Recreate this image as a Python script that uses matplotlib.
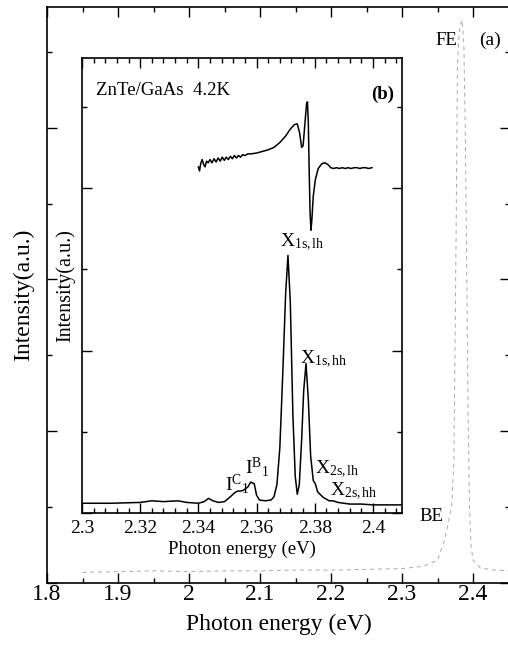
import matplotlib
matplotlib.use("Agg")
import matplotlib.pyplot as plt
from matplotlib.ticker import MultipleLocator, FixedLocator, FixedFormatter

plt.rcParams['font.family'] = ['Liberation Serif', 'DejaVu Serif']
plt.rcParams['mathtext.fontset'] = 'custom'
plt.rcParams['mathtext.rm'] = 'Liberation Serif'
plt.rcParams['mathtext.it'] = 'Liberation Serif:italic'

# ---- panel (a): full-range PL spectrum (faint trace) ----
energy_a = [1.85, 1.90, 1.95, 2.00, 2.05, 2.10, 2.15, 2.20, 2.25, 2.30, 2.33,
            2.350, 2.360, 2.366, 2.370, 2.373, 2.376, 2.378, 2.380, 2.382, 2.3845,
            2.387, 2.389, 2.391, 2.393, 2.395, 2.397, 2.400, 2.410, 2.430, 2.450]
intensity_a = [0.14, 0.15, 0.16, 0.15, 0.16, 0.16, 0.17, 0.17, 0.18, 0.19, 0.22,
               0.30, 0.57, 0.83, 1.03, 1.60, 4.50, 6.80, 7.20, 7.35, 7.42,
               7.10, 6.00, 4.20, 2.20, 1.00, 0.50, 0.30, 0.20, 0.17, 0.16]

# ---- panel (b): high-resolution PL spectrum ----
energy_b = [2.300, 2.310, 2.320, 2.324, 2.328, 2.333, 2.336, 2.340, 2.342, 2.3435,
            2.345, 2.347, 2.349, 2.351, 2.3525, 2.3535, 2.3545, 2.3555, 2.357, 2.358,
            2.3592, 2.360, 2.361, 2.363, 2.365, 2.366, 2.367, 2.368, 2.369, 2.3700,
            2.3708, 2.3716, 2.3725, 2.3733, 2.3740, 2.3747, 2.3755, 2.3762, 2.3770, 2.3778,
            2.3786, 2.3795, 2.3802, 2.381, 2.383, 2.385, 2.3863, 2.388, 2.392, 2.396,
            2.400, 2.405, 2.410]
intensity_b = [0.12, 0.12, 0.13, 0.15, 0.14, 0.15, 0.13, 0.12, 0.14, 0.18,
               0.15, 0.13, 0.14, 0.20, 0.25, 0.27, 0.27, 0.28, 0.32, 0.38,
               0.36, 0.22, 0.16, 0.15, 0.16, 0.20, 0.35, 0.80, 1.70, 2.70,
               3.17, 2.60, 1.20, 0.45, 0.23, 0.35, 0.90, 1.50, 1.84, 1.40,
               0.70, 0.40, 0.36, 0.26, 0.19, 0.15, 0.15, 0.13, 0.11, 0.11,
               0.10, 0.10, 0.10]

# ---- panel (b): derivative / reflectance-like trace ----
energy_r = [2.3400, 2.3404, 2.3408, 2.3413, 2.3418, 2.3423, 2.3428, 2.3434, 2.3440, 2.3447,
            2.3454, 2.3461, 2.3468, 2.3475, 2.3482, 2.3489, 2.3496, 2.3503, 2.3510, 2.3517,
            2.3524, 2.3531, 2.3538, 2.3545, 2.3552, 2.3560, 2.3570, 2.3580, 2.3600, 2.3620,
            2.3640, 2.3660, 2.3680, 2.3700, 2.3715, 2.3730, 2.3740, 2.3748, 2.3755, 2.3760,
            2.3766, 2.3772, 2.3775, 2.3778, 2.3781, 2.3784, 2.3787, 2.3790, 2.3795, 2.3802,
            2.3812, 2.3825, 2.3835, 2.3845, 2.3855, 2.3865, 2.3875, 2.3885, 2.3895, 2.3905,
            2.3915, 2.3925, 2.3935, 2.3945, 2.3955, 2.3965, 2.3975, 2.3985, 2.3997]
signal_r = [4.26, 4.21, 4.30, 4.35, 4.29, 4.26, 4.33, 4.31, 4.35, 4.31,
            4.36, 4.32, 4.37, 4.33, 4.38, 4.34, 4.38, 4.35, 4.39, 4.36,
            4.40, 4.37, 4.40, 4.38, 4.41, 4.40, 4.42, 4.42, 4.43, 4.45,
            4.47, 4.50, 4.56, 4.64, 4.72, 4.78, 4.79, 4.68, 4.50, 4.52,
            4.78, 5.04, 5.06, 4.80, 4.20, 3.70, 3.48, 3.60, 3.90, 4.10,
            4.24, 4.30, 4.31, 4.29, 4.25, 4.24, 4.25, 4.24, 4.25, 4.24,
            4.25, 4.24, 4.25, 4.25, 4.24, 4.25, 4.25, 4.24, 4.25]

main_xticks = [1.8, 1.9, 2.0, 2.1, 2.2, 2.3, 2.4]
main_xticklabels = ['1.8', '1.9', '2', '2.1', '2.2', '2.3', '2.4']
inset_xticks = [2.30, 2.32, 2.34, 2.36, 2.38, 2.40]
inset_xticklabels = ['2.3', '2.32', '2.34', '2.36', '2.38', '2.4']

W, H = 508, 645
fig = plt.figure(figsize=(W / 100, H / 100), dpi=100)

def rect(l, t, r, b):
    return [l / W, 1 - b / H, (r - l) / W, (b - t) / H]

# main axes
ax = fig.add_axes(rect(47, 7, 510, 583))
ax.plot(energy_a, intensity_a, color='#a8a8a8', lw=0.7, ls=(0, (4, 4)))
ax.set_xlim(1.8, 2.452)
ax.set_ylim(0, 7.59)
ax.xaxis.set_major_locator(FixedLocator(main_xticks))
ax.xaxis.set_major_formatter(FixedFormatter(main_xticklabels))
ax.xaxis.set_minor_locator(MultipleLocator(0.05))
ax.yaxis.set_major_locator(MultipleLocator(2))
ax.yaxis.set_minor_locator(MultipleLocator(1))
ax.set_yticklabels([])
ax.tick_params(which='both', direction='in', top=True, right=True, width=1.0)
ax.tick_params(which='major', length=7)
ax.tick_params(which='minor', length=3.5)
ax.tick_params(axis='x', labelsize=17, pad=1)
for s in ax.spines.values():
    s.set_linewidth(1.2)
ax.set_xlabel('Photon energy (eV)', fontsize=17, labelpad=6)
ax.set_ylabel('Intensity(a.u.)', fontsize=17, labelpad=6)
ax.text(2.3775, 7.15, 'FE', fontsize=13.5, ha='right', va='center')
ax.text(2.424, 7.15, '(a)', fontsize=14, ha='center', va='center')
ax.text(2.3577, 0.88, 'BE', fontsize=13.5, ha='right', va='center')

# inset axes
ins = fig.add_axes(rect(82, 58, 402, 513))
ins.set_facecolor('white')
ins.plot(energy_b, intensity_b, color='black', lw=1.1)
ins.plot(energy_r, signal_r, color='black', lw=1.1)
ins.set_xlim(2.3, 2.41)
ins.set_ylim(0, 5.6)
ins.xaxis.set_major_locator(FixedLocator(inset_xticks))
ins.xaxis.set_major_formatter(FixedFormatter(inset_xticklabels))
ins.xaxis.set_minor_locator(MultipleLocator(0.004))
ins.yaxis.set_major_locator(MultipleLocator(2))
ins.yaxis.set_minor_locator(MultipleLocator(1))
ins.set_yticklabels([])
ins.tick_params(which='both', direction='in', top=True, right=True, width=1.0)
ins.tick_params(which='major', length=7)
ins.tick_params(which='minor', length=3.5)
ins.tick_params(axis='x', labelsize=14, pad=5)
for s in ins.spines.values():
    s.set_linewidth(1.2)
ins.set_xlabel('Photon energy (eV)', fontsize=13.5, labelpad=3)
ins.set_ylabel('Intensity(a.u.)', fontsize=14.5, labelpad=1)
ins.text(2.3048, 5.2, 'ZnTe/GaAs  4.2K', fontsize=13.5, ha='left', va='center')
ins.text(2.4035, 5.15, '(b)', fontsize=13.5, ha='center', va='center', fontweight='bold')
ins.text(2.368, 3.33, r'X$_{\mathrm{1s,lh}}$', fontsize=14, ha='left', va='center')
ins.text(2.3749, 1.89, r'X$_{\mathrm{1s,hh}}$', fontsize=14, ha='left', va='center')
ins.text(2.3801, 0.54, r'X$_{\mathrm{2s,lh}}$', fontsize=14, ha='left', va='center')
ins.text(2.3852, 0.26, r'X$_{\mathrm{2s,hh}}$', fontsize=14, ha='left', va='center')
ins.text(2.3491, 0.36, r'I$^{\mathrm{C}}{}_{\mathrm{1}}$', fontsize=14, ha='left', va='center')
ins.text(2.3560, 0.56, r'I$^{\mathrm{B}}{}_{\mathrm{1}}$', fontsize=14, ha='left', va='center')

fig.savefig('out.png', dpi=100)
